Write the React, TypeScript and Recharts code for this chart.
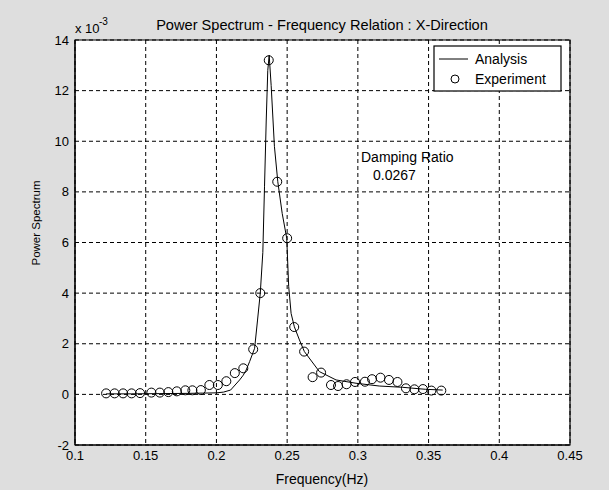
import React from "react";
import {
  ComposedChart,
  Line,
  Scatter,
  XAxis,
  YAxis,
  CartesianGrid,
  ReferenceArea,
} from "recharts";

// frequency (Hz) and power spectrum (x 1e-3)
const expFreq = [
  0.122, 0.128, 0.134, 0.14, 0.146, 0.154, 0.16, 0.166, 0.172, 0.178, 0.183,
  0.189, 0.195, 0.201, 0.207, 0.213, 0.219, 0.226, 0.231, 0.237, 0.243, 0.25,
  0.255, 0.262, 0.268, 0.274, 0.281, 0.286, 0.292, 0.298, 0.305, 0.31, 0.316,
  0.322, 0.328, 0.334, 0.34, 0.346, 0.352, 0.359,
];
const expPower = [
  0.04, 0.04, 0.04, 0.04, 0.05, 0.07, 0.07, 0.09, 0.12, 0.16, 0.16, 0.17, 0.37,
  0.37, 0.52, 0.84, 1.03, 1.78, 4.0, 13.2, 8.4, 6.17, 2.66, 1.69, 0.68, 0.86,
  0.37, 0.33, 0.4, 0.49, 0.5, 0.6, 0.66, 0.57, 0.49, 0.24, 0.2, 0.21, 0.15,
  0.15,
];

const fitFreq = [
  0.122, 0.14, 0.16, 0.18, 0.19, 0.2, 0.205, 0.21, 0.2164, 0.219, 0.221,
  0.2235, 0.227, 0.229, 0.231, 0.2328, 0.234, 0.2352, 0.2363, 0.2373, 0.2387,
  0.241, 0.2434, 0.2465, 0.2497, 0.2511, 0.2528, 0.2551, 0.2587, 0.2622,
  0.2728, 0.2846, 0.2987, 0.3151, 0.3315, 0.348, 0.36,
];
const fitPower = [
  0.02, 0.02, 0.03, 0.04, 0.05, 0.06, 0.09, 0.17, 0.57, 0.76, 0.96, 1.3, 1.82,
  2.9, 4.0, 5.6, 8.2, 10.8, 12.8, 13.4, 12.2, 9.8, 8.4, 7.15, 6.17, 4.26, 3.2,
  2.67, 2.15, 1.69, 0.9, 0.57, 0.44, 0.33, 0.28, 0.2, 0.17,
];

const xTicks = [0.1, 0.15, 0.2, 0.25, 0.3, 0.35, 0.4, 0.45];
const yTicks = [-2, 0, 2, 4, 6, 8, 10, 12, 14];

const expData = expFreq.map((f, i) => ({ f, v: expPower[i] }));
const fitData = fitFreq.map((f, i) => ({ f, v: fitPower[i] }));

const FONT = '"Liberation Sans", Arial, Helvetica, sans-serif';

const OpenCircle = (props: any) => (
  <circle cx={props.cx} cy={props.cy} r={4.5} fill="none" stroke="#000" strokeWidth={1} />
);

export default function App() {
  return (
    <div
      style={{
        position: "absolute",
        left: 0,
        top: 0,
        width: 609,
        height: 490,
        background: "#dedede",
        fontFamily: FONT,
      }}
    >
      <ComposedChart
        width={609}
        height={490}
        margin={{ top: 40, right: 39, bottom: 15, left: 15 }}
      >
        <CartesianGrid
          fill="#fff"
          stroke="#000"
          strokeDasharray="4 3"
          horizontalValues={yTicks}
          verticalValues={xTicks}
        />
        <XAxis
          dataKey="f"
          type="number"
          domain={[0.1, 0.45]}
          ticks={xTicks}
          allowDataOverflow
          height={30}
          tickSize={0}
          tickMargin={6}
          axisLine={{ stroke: "#000" }}
          tick={{ fill: "#000", fontSize: 13, fontFamily: FONT }}
        />
        <YAxis
          type="number"
          domain={[-2, 14]}
          ticks={yTicks}
          allowDataOverflow
          width={60}
          tickSize={0}
          tickMargin={6}
          axisLine={{ stroke: "#000" }}
          tick={{ fill: "#000", fontSize: 13, fontFamily: FONT }}
        />
        <ReferenceArea
          x1={0.1}
          x2={0.45}
          y1={-2}
          y2={14}
          fill="none"
          stroke="#000"
          strokeWidth={1.2}
          ifOverflow="visible"
        />
        <Line
          data={fitData}
          dataKey="v"
          type="linear"
          stroke="#000"
          strokeWidth={1}
          dot={false}
          isAnimationActive={false}
        />
        <Scatter
          data={expData}
          dataKey="v"
          shape={OpenCircle}
          isAnimationActive={false}
        />
      </ComposedChart>

      <svg
        width={609}
        height={490}
        style={{ position: "absolute", left: 0, top: 0, pointerEvents: "none" }}
        fontFamily={FONT}
      >
        <text x={322} y={30} fontSize={14.6} textAnchor="middle" fill="#000">
          Power Spectrum - Frequency Relation : X-Direction
        </text>
        <text x={75} y={33} fontSize={13} fill="#000">
          x 10
        </text>
        <text x={99} y={25} fontSize={10} fill="#000">
          -3
        </text>
        <text
          x={0}
          y={0}
          fontSize={11.5}
          textAnchor="middle"
          fill="#000"
          transform="translate(40 223) rotate(-90)"
        >
          Power Spectrum
        </text>
        <text x={322} y={484} fontSize={14} textAnchor="middle" fill="#000">
          Frequency(Hz)
        </text>
        <text x={361} y={162} fontSize={14} fill="#000">
          Damping Ratio
        </text>
        <text x={373} y={180} fontSize={14} fill="#000">
          0.0267
        </text>

        <rect x={434} y={46} width={127} height={45} fill="#fff" stroke="#000" strokeWidth={1.2} />
        <line x1={439} x2={468} y1={59} y2={59} stroke="#000" strokeWidth={1} />
        <text x={475} y={64} fontSize={14} fill="#000">
          Analysis
        </text>
        <circle cx={455} cy={79} r={4} fill="none" stroke="#000" strokeWidth={1} />
        <text x={475} y={84} fontSize={14} fill="#000">
          Experiment
        </text>
      </svg>
    </div>
  );
}
